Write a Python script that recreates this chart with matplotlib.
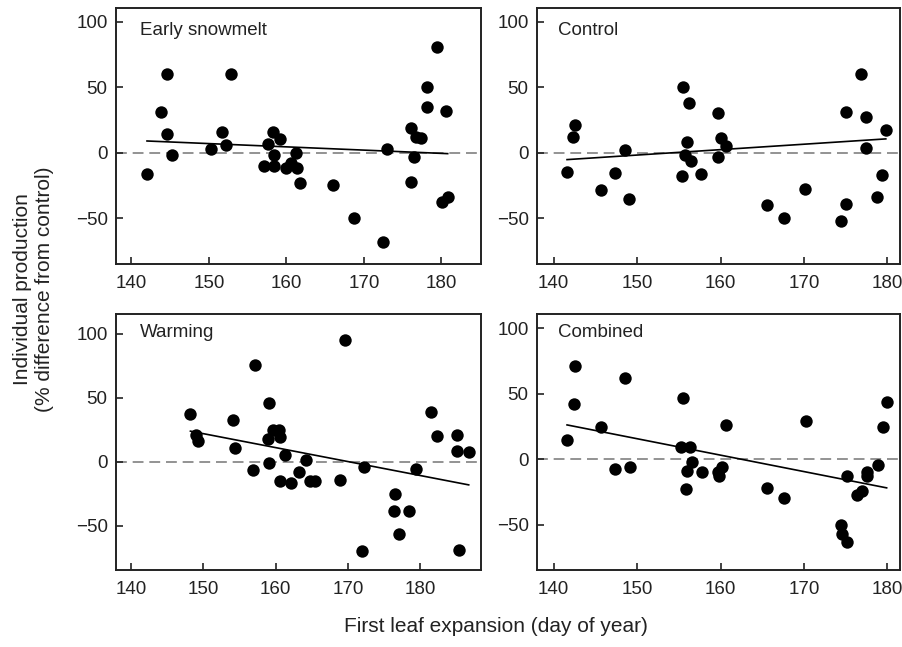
# Individual production vs. first leaf expansion, four treatments
import numpy as np
import matplotlib
matplotlib.use("Agg")
import matplotlib.pyplot as plt

plt.rcParams['font.family'] = ['Liberation Sans', 'DejaVu Sans']

# Data
snow_x = [142.0, 143.8, 144.6, 144.6, 145.2, 150.2, 151.7, 152.2, 152.8, 157.1,
          157.6, 158.3, 159.2, 158.4, 158.4, 160.0, 160.6, 161.2, 161.3, 161.8,
          166.0, 168.7, 172.5, 173.0, 176.1, 176.1, 176.7, 177.3, 176.5, 178.1,
          178.1, 179.4, 180.6, 180.1, 180.8]
snow_y = [-16, 31, 60, 14, -2, 2.5, 16, 6, 60, -10,
          7, 15.5, 10.5, -2, -10, -12, -8, 0, -12, -23,
          -25, -49.5, -68, 2.5, 19, -22, 12, 11, -3, 50,
          35, 81, 32, -38, -34]

ctrl_x = [141.6, 142.3, 142.6, 145.7, 147.3, 148.5, 149.0, 155.5, 156.2, 156.0,
          155.7, 156.5, 155.4, 157.7, 159.7, 160.1, 160.6, 159.7, 165.6, 167.6,
          170.1, 175.0, 176.8, 177.4, 177.4, 174.4, 175.0, 179.8, 179.4, 178.8]
ctrl_y = [-15, 12, 21.5, -28.5, -15.5, 2, -35, 50, 38, 8,
          -2, -6, -18, -16, 30, 11, 5, -3, -40, -50,
          -28, 31, 60, 27, 3.5, -52, -39, 17, -17, -34]

warm_x = [148.2, 149.0, 149.2, 154.1, 154.3, 156.9, 157.2, 159.1, 158.9, 159.0,
          159.6, 160.4, 160.6, 161.3, 160.6, 162.1, 163.2, 164.2, 164.8, 165.5,
          168.9, 169.6, 171.9, 172.2, 176.5, 176.4, 177.1, 178.5, 179.4, 181.5,
          182.3, 185.1, 185.1, 186.7, 185.3]
warm_y = [37, 21, 16.5, 32.5, 10.5, -6.5, 76, 46, 18, -1,
          25, 25, 19.5, 5.5, -15, -16.5, -8, 1.5, -15, -15,
          -14.5, 95, -70, -4, -25.5, -38.5, -56.5, -38.5, -5.5, 39,
          20, 21, 8.5, 7.5, -68.5]

comb_x = [141.6, 142.4, 142.6, 145.7, 147.3, 148.5, 149.1, 155.5, 155.3, 156.3,
          156.6, 156.0, 155.8, 157.8, 159.7, 159.8, 160.2, 160.6, 165.6, 167.6,
          170.2, 174.4, 174.5, 175.1, 175.1, 176.4, 176.9, 177.5, 177.5, 178.9,
          179.5, 179.9]
comb_y = [14.5, 42.5, 71, 25, -7, 62, -6, 47, 9.5, 9.5,
          -2, -9, -22.5, -10, -10, -13, -5.5, 26, -21.5, -29.5,
          29, -50, -57, -63, -13, -27, -24.5, -10, -13, -4,
          24.5, 43.5]

# regression lines (slope, intercept)
fits = [(-0.249, 44.3), (0.414, -63.9), (-1.09, 185.5), (-1.255, 204.0)]

labels = ["Early snowmelt", "Control", "Warming", "Combined"]
xs = [snow_x, ctrl_x, warm_x, comb_x]
ys = [snow_y, ctrl_y, warm_y, comb_y]
xlims = [(138, 185.1), (138, 181.5), (137.9, 188.4), (138, 181.5)]
ylims = [(-85, 110.5), (-85, 110.5), (-84.5, 115.5), (-84.5, 111)]

fig = plt.figure(figsize=(9.02, 6.47), dpi=100)
W, H = 902, 647
boxes = [(116, 8, 481, 264), (537, 8, 900, 264),
         (116, 314, 481, 570), (537, 314, 900, 570)]

for i in range(4):
    l, t, r, b = boxes[i]
    ax = fig.add_axes([l / W, 1 - b / H, (r - l) / W, (b - t) / H])
    ax.axhline(0, color='#808080', lw=1.2, dashes=(6.5, 3.5), zorder=1)
    slope, icpt = fits[i]
    lx = np.array([min(xs[i]), max(xs[i])])
    ax.plot(lx, slope * lx + icpt, color='black', lw=1.2, zorder=2)
    ax.scatter(xs[i], ys[i], s=80, color='black', zorder=3, linewidths=0)
    ax.set_xlim(xlims[i])
    ax.set_ylim(ylims[i])
    ax.set_xticks([140, 150, 160, 170, 180])
    ax.set_yticks([-50, 0, 50, 100])
    ax.tick_params(direction='in', length=5, width=1.2, labelsize=13.5,
                   colors='#222222', pad=6)
    ax.tick_params(axis='x', pad=8)
    for sp in ax.spines.values():
        sp.set_linewidth(1.4)
        sp.set_color('#222222')
    ax.text(0.065 if i in (0, 2) else 0.058, 0.914 if i < 2 else 0.926,
            labels[i], transform=ax.transAxes, ha='left', va='center',
            fontsize=13.5, color='#222222')

fig.text(34 / W, 1 - 289 / H, "Individual production\n(% difference from control)",
         rotation=90, ha='center', va='center', fontsize=15, linespacing=1.2,
         color='#222222')
fig.text(496 / W, 1 - 626 / H, "First leaf expansion (day of year)",
         ha='center', va='center', fontsize=15, color='#222222')

fig.savefig("out.png", dpi=100)
